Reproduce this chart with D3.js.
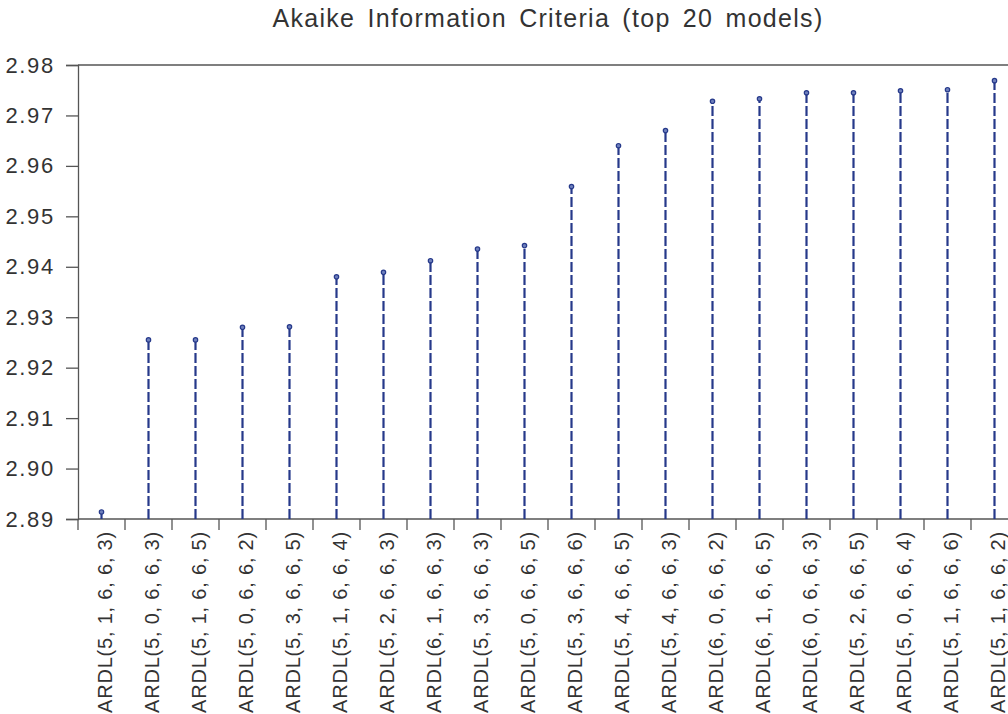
<!DOCTYPE html>
<html>
<head>
<meta charset="utf-8">
<script src="https://cdn.jsdelivr.net/npm/d3@7"></script>
<style>
  html, body { margin: 0; padding: 0; background: #fff; }
  svg { display: block; }
</style>
</head>
<body>
<svg id="chart" width="1008" height="714"></svg>
<script>
// Top 20 ARDL models ranked by Akaike information criterion
const models = [
  "ARDL(5, 1, 6, 6, 3)", "ARDL(5, 0, 6, 6, 3)", "ARDL(5, 1, 6, 6, 5)", "ARDL(5, 0, 6, 6, 2)",
  "ARDL(5, 3, 6, 6, 5)", "ARDL(5, 1, 6, 6, 4)", "ARDL(5, 2, 6, 6, 3)", "ARDL(6, 1, 6, 6, 3)",
  "ARDL(5, 3, 6, 6, 3)", "ARDL(5, 0, 6, 6, 5)", "ARDL(5, 3, 6, 6, 6)", "ARDL(5, 4, 6, 6, 5)",
  "ARDL(5, 4, 6, 6, 3)", "ARDL(6, 0, 6, 6, 2)", "ARDL(6, 1, 6, 6, 5)", "ARDL(6, 0, 6, 6, 3)",
  "ARDL(5, 2, 6, 6, 5)", "ARDL(5, 0, 6, 6, 4)", "ARDL(5, 1, 6, 6, 6)", "ARDL(5, 1, 6, 6, 2)"
];
const aic = [
  2.8914, 2.9255, 2.9255, 2.9280, 2.9281, 2.9380, 2.9389, 2.9412,
  2.9435, 2.9442, 2.9559, 2.9640, 2.9670, 2.9728, 2.9733, 2.9745,
  2.9745, 2.9749, 2.9751, 2.9769
];
const yTicks = [2.89, 2.90, 2.91, 2.92, 2.93, 2.94, 2.95, 2.96, 2.97, 2.98];

const svg = d3.select("#chart");
const plotLeft = 78, plotRight = 1018, plotTop = 65, plotBottom = 519;
const axisColor = "#555";
const textColor = "#333";
const stemColor = "#26398a";
const font = "'Liberation Sans', Arial, sans-serif";

const x = d3.scaleBand().domain(models).range([plotLeft, plotRight]).padding(0);
const y = d3.scaleLinear().domain([2.89, 2.98]).range([plotBottom, plotTop]);

// title
svg.append("text")
  .attr("x", (plotLeft + plotRight) / 2).attr("y", 27)
  .attr("text-anchor", "middle")
  .attr("font-family", font).attr("font-size", 25)
  .attr("letter-spacing", 1.3).attr("word-spacing", 4)
  .attr("fill", textColor)
  .text("Akaike Information Criteria (top 20 models)");

// top frame line
svg.append("line")
  .attr("x1", plotLeft).attr("x2", plotRight).attr("y1", plotTop).attr("y2", plotTop)
  .attr("stroke", axisColor).attr("stroke-width", 1.3);

// y axis
const yAxis = svg.append("g")
  .attr("transform", `translate(${plotLeft},0)`)
  .call(d3.axisLeft(y).tickValues(yTicks).tickFormat(d3.format(".2f")).tickSize(12).tickPadding(11));
yAxis.select(".domain").attr("stroke", axisColor).attr("stroke-width", 1.3);
yAxis.selectAll(".tick line").attr("stroke", axisColor).attr("stroke-width", 1.3);
yAxis.selectAll(".tick text")
  .attr("font-family", font).attr("font-size", 22).attr("letter-spacing", 1.7)
  .attr("fill", textColor);

// x axis: ticks mark the band boundaries
const boundaries = d3.range(models.length + 1).map(i => plotLeft + i * x.bandwidth());
const xg = svg.append("g");
xg.append("line")
  .attr("x1", plotLeft).attr("x2", plotRight).attr("y1", plotBottom).attr("y2", plotBottom)
  .attr("stroke", axisColor).attr("stroke-width", 1.3);
xg.selectAll("line.tk").data(boundaries).join("line")
  .attr("class", "tk")
  .attr("x1", d => d).attr("x2", d => d)
  .attr("y1", plotBottom).attr("y2", plotBottom + 11)
  .attr("stroke", axisColor).attr("stroke-width", 1.3);
xg.selectAll("text").data(models).join("text")
  .attr("transform", d => `translate(${x(d) + x.bandwidth() / 2 + 10},${plotBottom + 12}) rotate(-90)`)
  .attr("text-anchor", "end")
  .attr("font-family", font).attr("font-size", 20).attr("letter-spacing", 0.8)
  .attr("fill", textColor)
  .text(d => d);

// stems
const data = models.map((m, i) => ({ m, v: aic[i] }));
svg.selectAll("line.stem").data(data).join("line")
  .attr("class", "stem")
  .attr("x1", d => x(d.m) + x.bandwidth() / 2)
  .attr("x2", d => x(d.m) + x.bandwidth() / 2)
  .attr("y1", plotBottom)
  .attr("y2", d => y(d.v))
  .attr("stroke", stemColor).attr("stroke-width", 2.2)
  .attr("stroke-dasharray", "10,3");

// markers
svg.selectAll("circle.pt").data(data).join("circle")
  .attr("class", "pt")
  .attr("cx", d => x(d.m) + x.bandwidth() / 2)
  .attr("cy", d => y(d.v))
  .attr("r", 2.2)
  .attr("fill", "#6f80bd")
  .attr("stroke", stemColor).attr("stroke-width", 1.2);
</script>
</body>
</html>
